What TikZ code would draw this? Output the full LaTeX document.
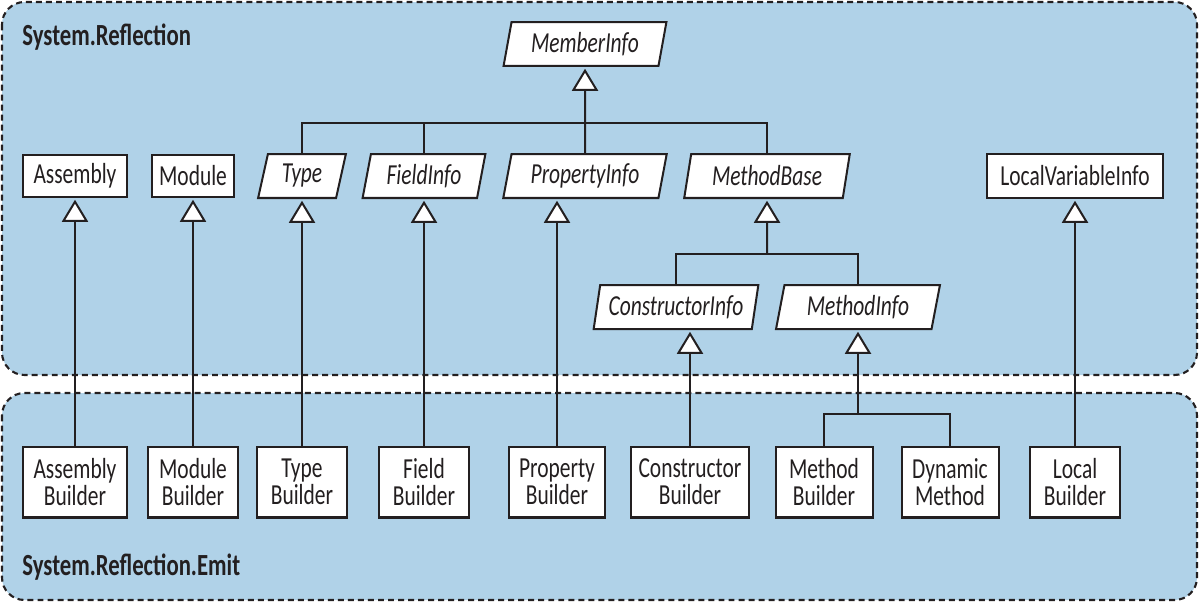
\documentclass[tikz,border=0pt]{standalone}
\usepackage{fontspec}
\setmainfont{Carlito}[FakeStretch=0.74]
\usetikzlibrary{arrows.meta,shapes.geometric}
\definecolor{nsfill}{RGB}{176,210,232}
\definecolor{ink}{RGB}{35,31,32}

\begin{document}
\begin{tikzpicture}[
  x=0.02cm, y=-0.02cm,
  region/.style={draw=ink, fill=nsfill, line width=1.2pt,
    dash pattern=on 3.4pt off 2.3pt, rounded corners=0.45cm},
  cls/.style={rectangle, draw=ink, fill=white, line width=1.14pt, inner sep=0pt,
    minimum height=0.84cm, text=ink, font=\fontsize{16.5}{15.5}\selectfont},
  abscls/.style={cls, trapezium, trapezium left angle=76, trapezium right angle=104,
    trapezium stretches=true, minimum height=0.88cm,
    font=\fontsize{16.5}{15.5}\selectfont\itshape},
  builder/.style={cls, align=center, minimum height=1.42cm},
  link/.style={draw=ink, line width=1.14pt},
  inherit/.style={link, -{Triangle[width=0.52cm, length=0.44cm, fill=white]},
    shorten >=1pt},
  title/.style={anchor=west, inner sep=0pt, text=ink,
    font=\fontsize{17.5}{17}\selectfont\bfseries}
]
  \useasboundingbox (0,0) rectangle (1200,602);

  % namespaces
  \draw[region] (2,2) rectangle (1197,375);
  \draw[region] (2,393) rectangle (1197,600);
  \node[title] (reflabel) at (22,37) {System.Reflection};
  \node[title] (emitlabel) at (22,567) {System.Reflection.Emit};

  % System.Reflection
  \node[abscls, minimum width=3.28cm] (member) at (585,44) {MemberInfo};
  \node[cls, minimum width=2.08cm] (asm) at (75,176) {Assembly};
  \node[cls, minimum width=1.66cm] (mod) at (193,176) {Module};
  \node[abscls, minimum width=1.76cm] (type) at (302,176) {Type};
  \node[abscls, minimum width=2.46cm] (field) at (424,176) {FieldInfo};
  \node[abscls, minimum width=3.28cm] (prop) at (585,176) {PropertyInfo};
  \node[abscls, minimum width=3.32cm] (mbase) at (767,176) {MethodBase};
  \node[cls, minimum width=3.52cm, minimum height=0.88cm] (lvar) at (1075,176)
    {LocalVariableInfo};
  \node[abscls, minimum width=3.32cm] (ctor) at (676,307) {ConstructorInfo};
  \node[abscls, minimum width=3.3cm] (minfo) at (858,307) {MethodInfo};

  % System.Reflection.Emit
  \node[builder, minimum width=2.08cm] (asmb) at (75,482) {Assembly\\Builder};
  \node[builder, minimum width=1.8cm] (modb) at (193,482) {Module\\Builder};
  \node[builder, minimum width=1.8cm] (typeb) at (302,482) {Type\\Builder};
  \node[builder, minimum width=1.8cm] (fieldb) at (424,482) {Field\\Builder};
  \node[builder, minimum width=1.94cm] (propb) at (557,482) {Property\\Builder};
  \node[builder, minimum width=2.36cm] (ctorb) at (690,482) {Constructor\\Builder};
  \node[builder, minimum width=1.94cm] (methb) at (824,482) {Method\\Builder};
  \node[builder, minimum width=1.94cm] (dynm) at (950,482) {Dynamic\\Method};
  \node[builder, minimum width=1.8cm] (localb) at (1075,482) {Local\\Builder};

  \coordinate (bus1) at (585,123);
  \coordinate (bus2) at (767,254);
  \coordinate (bus3) at (858,414);

  % inheritance
  \draw[inherit] (prop.north) -- (member.south);
  \draw[link] (type.north) |- (bus1) -| (mbase.north);
  \draw[link] (field.north) -- (field.north |- bus1);
  \draw[inherit] (bus2) -- (mbase.south);
  \draw[link] (ctor.north) |- (bus2) -| (minfo.north);
  \draw[inherit] (bus3) -- (bus3 |- minfo.south);
  \draw[link] (methb.north) |- (bus3) -| (dynm.north);
  \draw[inherit] (asmb.north) -- (asmb.north |- asm.south);
  \draw[inherit] (modb.north) -- (modb.north |- mod.south);
  \draw[inherit] (typeb.north) -- (typeb.north |- type.south);
  \draw[inherit] (fieldb.north) -- (fieldb.north |- field.south);
  \draw[inherit] (propb.north) -- (propb.north |- prop.south);
  \draw[inherit] (ctorb.north) -- (ctorb.north |- ctor.south);
  \draw[inherit] (localb.north) -- (localb.north |- lvar.south);
\end{tikzpicture}
\end{document}
